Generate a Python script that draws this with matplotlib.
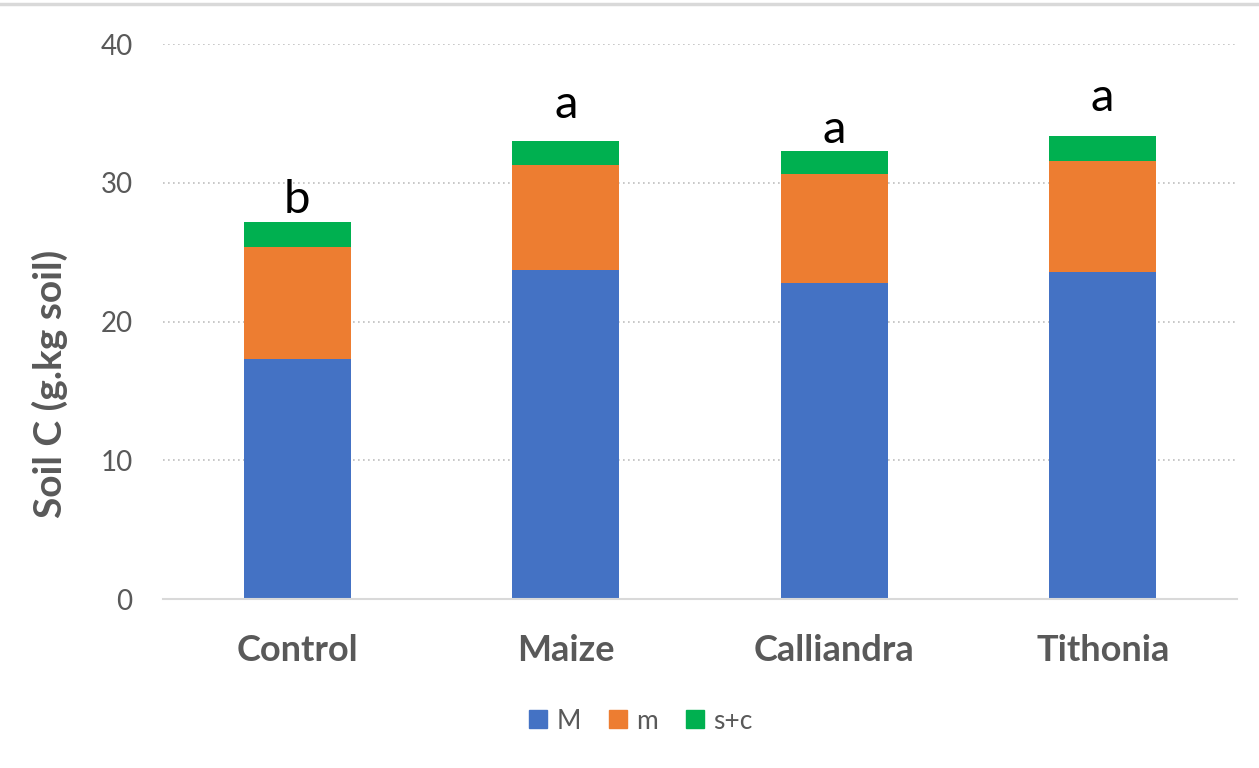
import matplotlib
matplotlib.use("Agg")
import matplotlib.pyplot as plt
from matplotlib.lines import Line2D
import numpy as np

plt.rcParams['font.family'] = ['Lato', 'DejaVu Sans']

categories = ["Control", "Maize", "Calliandra", "Tithonia"]
M_vals = [17.3, 23.7, 22.8, 23.6]
m_vals = [8.1, 7.6, 7.8, 8.0]
sc_vals = [1.8, 1.7, 1.7, 1.8]
letters = ["b", "a", "a", "a"]
letter_gaps = [0.65, 1.65, 0.6, 1.8]
series_names = ["M", "m", "s+c"]
colors = ["#4472C4", "#ED7D31", "#00B050"]
yticks = [0, 10, 20, 30, 40]

fig = plt.figure(figsize=(12.59, 7.68), dpi=100)
ax = fig.add_axes([0.1295, 0.22, 0.853, 0.7227])

x = np.arange(len(categories))
w = 0.40
M = np.array(M_vals); m = np.array(m_vals); sc = np.array(sc_vals)
ax.bar(x, M, w, color=colors[0], label=series_names[0], zorder=3)
ax.bar(x, m, w, bottom=M, color=colors[1], label=series_names[1], zorder=3)
ax.bar(x, sc, w, bottom=M + m, color=colors[2], label=series_names[2], zorder=3)

tot = M + m + sc
for xi, t, lab, g in zip(x, tot, letters, letter_gaps):
    ax.text(xi, t + g, lab, ha='center', va='baseline', fontsize=34, color='black')

ax.set_xlim(-0.5, 3.5)
ax.set_ylim(0, 40)
ax.set_yticks(yticks)
ax.set_yticklabels([str(v) for v in yticks], fontsize=20, color='#595959')
ax.set_xticks(x)
ax.set_xticklabels(categories, fontsize=26, fontweight='bold', color='#595959')
ax.tick_params(axis='both', length=0)
ax.tick_params(axis='y', pad=22)
ax.tick_params(axis='x', pad=25)
ax.yaxis.grid(True, linestyle=(0, (1, 2)), color='#BFBFBF', linewidth=1.2, zorder=0)
for s in ['top', 'right', 'left']:
    ax.spines[s].set_visible(False)
ax.spines['bottom'].set_color('#D9D9D9')
ax.spines['bottom'].set_linewidth(1.5)
ax.spines['bottom'].set_zorder(4)

ax.set_ylabel("Soil C (g.kg soil)", fontsize=28, fontweight='bold', color='#595959')
ax.yaxis.set_label_coords(-0.105, 0.387)
ax.yaxis.label.set_va('center')

handles = [Line2D([0], [0], marker='s', linestyle='none', markersize=13,
                  markerfacecolor=c, markeredgecolor=c) for c in colors]
fig.legend(handles, series_names, loc='center', bbox_to_anchor=(0.508, 0.061), ncol=3,
           frameon=False, fontsize=19, handletextpad=0.25, columnspacing=0.95,
           handlelength=0.9, labelcolor='#595959')

fig.add_artist(Line2D([0, 1], [0.995, 0.995], color='#D9D9D9', linewidth=2.5, transform=fig.transFigure))

fig.savefig("out.png", dpi=100, facecolor='white')
